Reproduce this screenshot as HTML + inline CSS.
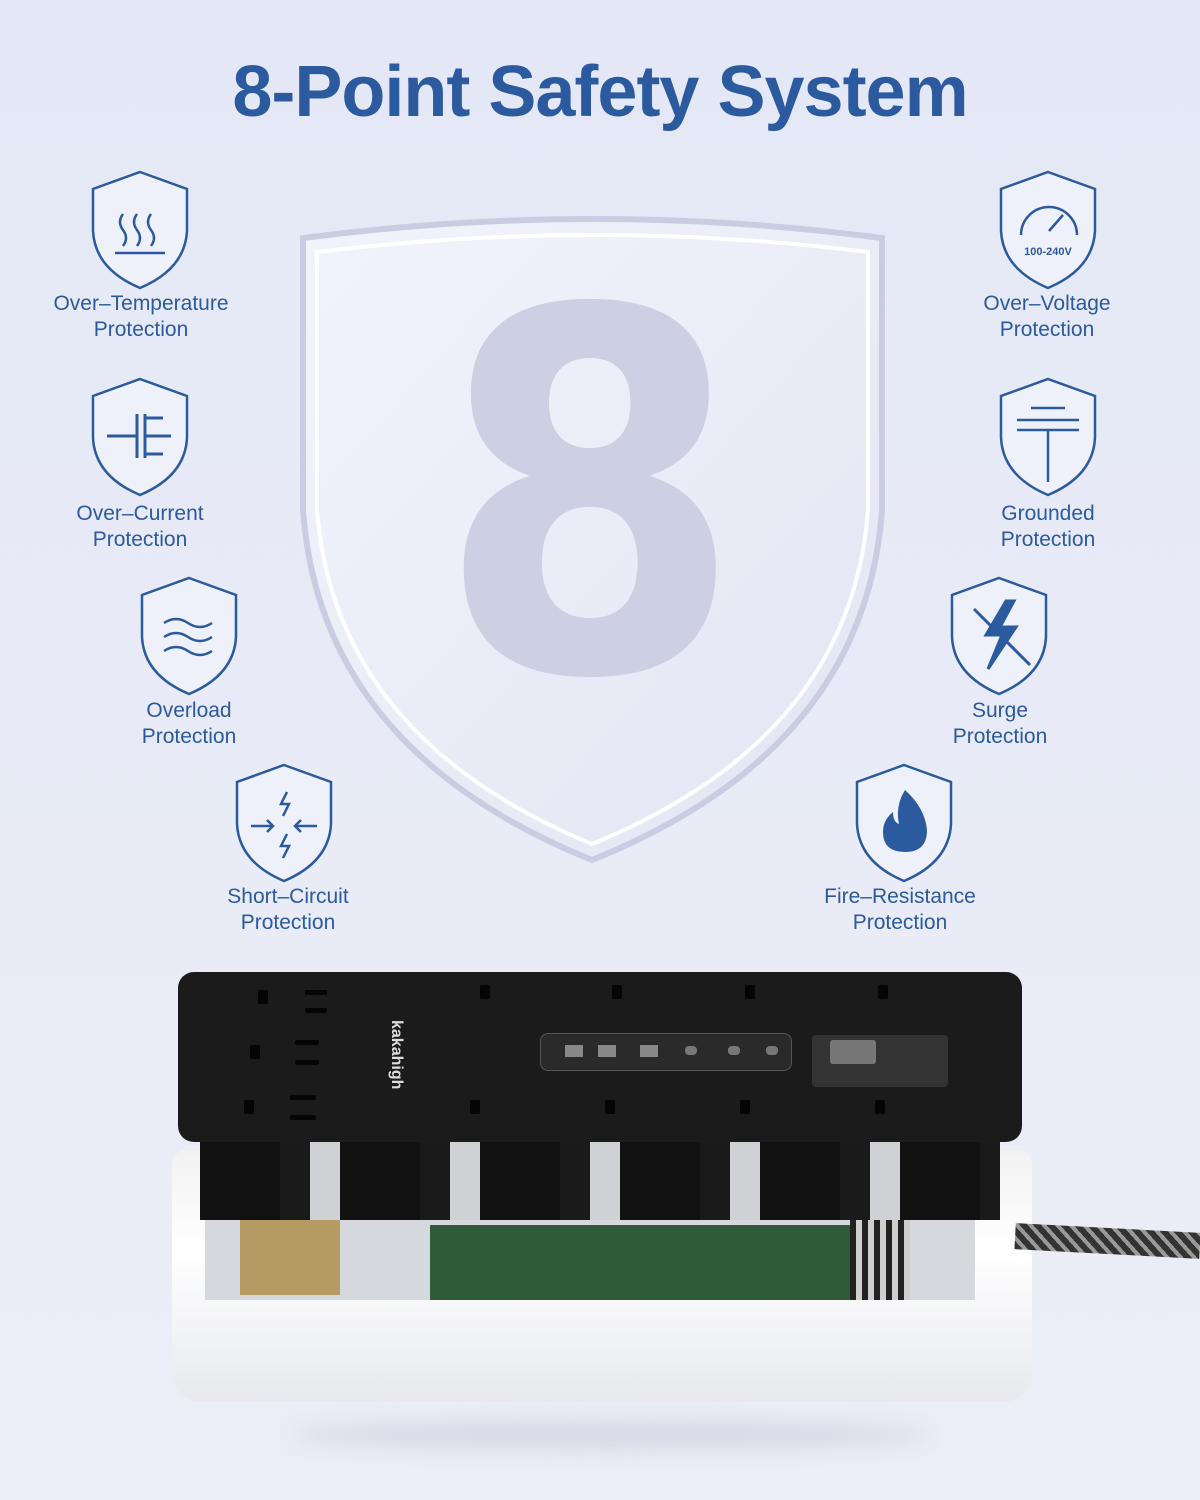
<!DOCTYPE html>
<html><head><meta charset="utf-8">
<style>
html,body{margin:0;padding:0}
body{width:1200px;height:1500px;position:relative;overflow:hidden;background:linear-gradient(#e4e8f6,#e9ecf7 60%,#eceef6);font-family:"Liberation Sans",sans-serif}
.title{position:absolute;top:51px;left:0;width:1200px;text-align:center;font-size:72px;font-weight:bold;color:#2b5a9e;letter-spacing:-1px}
.lbl{position:absolute;width:240px;text-align:center;font-size:21px;line-height:26px;color:#2b5a9e}
svg.sh{position:absolute;width:102px;height:122px}
.abs{position:absolute}
.o{position:absolute;width:10px;height:14px;background:#050505;border-radius:2px}
.eight{position:absolute;left:440px;top:400px;width:300px;height:200px;text-align:center;font-family:"DejaVu Sans",sans-serif;font-weight:bold;font-size:200px;line-height:200px;color:#cdd0e2;transform:scale(2.2,2.5);transform-origin:center center}
</style></head><body>
<div class="title">8-Point Safety System</div>

<svg class="abs" style="left:295px;top:210px" width="595" height="660" viewBox="0 0 595 660">
<defs><linearGradient id="g" x1="0" y1="0" x2="1" y2="1"><stop offset="0" stop-color="#f2f4fb"/><stop offset="1" stop-color="#e2e5f3"/></linearGradient></defs>
<path d="M8 28 Q300 -10 587 28 L587 300 Q570 540 297 650 Q25 540 8 300 Z" fill="url(#g)" stroke="#c9cde2" stroke-width="6"/>
<path d="M22 42 Q300 8 573 42 L573 300 Q556 528 297 634 Q40 528 22 300 Z" fill="none" stroke="#ffffff" stroke-width="4"/>
</svg>
<div class="eight">8</div>

<svg width="0" height="0" style="position:absolute"><defs>
<path id="s" d="M51 3 L98 20 L98 62 Q96 100 51 119 Q6 100 4 62 L4 20 Z" fill="#eef1fa" stroke="#2b5a9e" stroke-width="2.5"/>
</defs></svg>

<svg class="sh" style="left:89px;top:169px" viewBox="0 0 102 122"><use href="#s"/><g fill="none" stroke="#2b5a9e" stroke-width="2.5"><path d="M34 45 q-6 8 0 16 q6 8 0 16"/><path d="M48 45 q-6 8 0 16 q6 8 0 16"/><path d="M62 45 q-6 8 0 16 q6 8 0 16"/><path d="M26 84 h50"/></g></svg>
<div class="lbl" style="left:21px;top:291px">Over–Temperature<br>Protection</div>

<svg class="sh" style="left:89px;top:376px" viewBox="0 0 102 122"><use href="#s"/><g fill="none" stroke="#2b5a9e" stroke-width="3"><path d="M18 60 h30 M48 38 v44 M56 38 v44 M56 42 h18 M56 60 h26 M56 78 h18"/></g></svg>
<div class="lbl" style="left:20px;top:501px">Over–Current<br>Protection</div>

<svg class="sh" style="left:138px;top:575px" viewBox="0 0 102 122"><use href="#s"/><g fill="none" stroke="#2b5a9e" stroke-width="2.5"><path d="M26 48 q12 -8 24 0 q12 8 24 0"/><path d="M26 62 q12 -8 24 0 q12 8 24 0"/><path d="M26 76 q12 -8 24 0 q12 8 24 0"/></g></svg>
<div class="lbl" style="left:69px;top:698px">Overload<br>Protection</div>

<svg class="sh" style="left:233px;top:762px" viewBox="0 0 102 122"><use href="#s"/><g fill="none" stroke="#2b5a9e" stroke-width="2.5"><path d="M18 64 h22 M34 58 l6 6 -6 6 M84 64 h-22 M68 58 l-6 6 6 6 M54 30 l-6 12 8 0 -6 12 M54 72 l-6 12 8 0 -6 12"/></g></svg>
<div class="lbl" style="left:168px;top:884px">Short–Circuit<br>Protection</div>

<svg class="sh" style="left:997px;top:169px" viewBox="0 0 102 122"><use href="#s"/><g fill="none" stroke="#2b5a9e" stroke-width="2.5"><path d="M24 66 a28 28 0 0 1 56 0"/><path d="M52 62 l14 -16"/></g><text x="51" y="86" text-anchor="middle" style="font-size:11px;font-family:'Liberation Sans',sans-serif;font-weight:bold" fill="#2b5a9e">100-240V</text></svg>
<div class="lbl" style="left:927px;top:291px">Over–Voltage<br>Protection</div>

<svg class="sh" style="left:997px;top:376px" viewBox="0 0 102 122"><use href="#s"/><g fill="none" stroke="#2b5a9e" stroke-width="2.5"><path d="M34 32 h34 M20 44 h62 M20 54 h62 M51 54 v52"/></g></svg>
<div class="lbl" style="left:928px;top:501px">Grounded<br>Protection</div>

<svg class="sh" style="left:948px;top:575px" viewBox="0 0 102 122"><use href="#s"/><g stroke="#2b5a9e" stroke-width="3"><path d="M58 26 L38 60 L54 60 L40 94 L68 52 L52 52 L66 26 Z" fill="#2b5a9e"/><path d="M26 34 L82 90" fill="none"/></g></svg>
<div class="lbl" style="left:880px;top:698px">Surge<br>Protection</div>

<svg class="sh" style="left:853px;top:762px" viewBox="0 0 102 122"><use href="#s"/><path d="M52 28 q20 18 22 40 q0 22 -22 22 q-22 0 -22 -20 q0 -12 10 -20 q0 10 6 12 q-4 -18 6 -34 Z" fill="#2b5a9e"/></svg>
<div class="lbl" style="left:780px;top:884px">Fire–Resistance<br>Protection</div>

<div class="abs" style="left:290px;top:1420px;width:640px;height:30px;border-radius:50%;background:#d6d9e6;filter:blur(10px)"></div>
<div class="abs" style="left:172px;top:1150px;width:860px;height:252px;background:linear-gradient(#f2f2f2,#ffffff 40%,#e8e9ee);border-radius:14px 14px 30px 30px"></div>
<div class="abs" style="left:205px;top:1160px;width:770px;height:140px;background:#d5d8dc"></div>
<div class="abs" style="left:430px;top:1225px;width:470px;height:75px;background:#2f5b38"></div>
<div class="abs" style="left:850px;top:1220px;width:60px;height:80px;background:repeating-linear-gradient(90deg,#222 0 6px,#cfcfcf 6px 12px)"></div>
<div class="abs" style="left:240px;top:1195px;width:100px;height:100px;background:#b59a62"></div>
<div class="abs" style="left:1015px;top:1228px;width:185px;height:26px;background:repeating-linear-gradient(45deg,#333 0 6px,#999 6px 10px);transform:rotate(3deg)"></div>
<div class="abs" style="left:200px;top:1135px;width:800px;height:85px;background:repeating-linear-gradient(90deg,#111 0 80px,#1a1a1a 80px 110px,#cfd1d4 110px 140px)"></div>
<div class="abs" style="left:178px;top:972px;width:844px;height:170px;background:#1b1b1c;border-radius:16px"></div>
<div class="o" style="left:258px;top:990px"></div><div class="o" style="left:305px;top:990px;width:22px;height:5px"></div><div class="o" style="left:305px;top:1008px;width:22px;height:5px"></div>
<div class="o" style="left:250px;top:1045px"></div><div class="o" style="left:295px;top:1040px;width:24px;height:5px"></div><div class="o" style="left:295px;top:1060px;width:24px;height:5px"></div>
<div class="o" style="left:244px;top:1100px"></div><div class="o" style="left:290px;top:1095px;width:26px;height:5px"></div><div class="o" style="left:290px;top:1115px;width:26px;height:5px"></div>
<div class="o" style="left:480px;top:985px"></div><div class="o" style="left:612px;top:985px"></div><div class="o" style="left:745px;top:985px"></div><div class="o" style="left:878px;top:985px"></div>
<div class="o" style="left:470px;top:1100px"></div><div class="o" style="left:605px;top:1100px"></div><div class="o" style="left:740px;top:1100px"></div><div class="o" style="left:875px;top:1100px"></div>
<div class="abs" style="top:1020px;color:#ddd;font-size:16px;font-weight:bold;transform:rotate(90deg);transform-origin:left top;left:405px">kakahigh</div>
<div class="abs" style="left:540px;top:1033px;width:250px;height:36px;background:#2a2a2a;border:1px solid #555;border-radius:8px"></div>
<div class="abs" style="left:565px;top:1045px;width:18px;height:12px;background:#888"></div>
<div class="abs" style="left:598px;top:1045px;width:18px;height:12px;background:#888"></div>
<div class="abs" style="left:640px;top:1045px;width:18px;height:12px;background:#888"></div>
<div class="abs" style="left:685px;top:1046px;width:12px;height:9px;background:#777;border-radius:4px"></div>
<div class="abs" style="left:728px;top:1046px;width:12px;height:9px;background:#777;border-radius:4px"></div>
<div class="abs" style="left:766px;top:1046px;width:12px;height:9px;background:#777;border-radius:4px"></div>
<div class="abs" style="left:812px;top:1035px;width:136px;height:52px;background:#333;border-radius:4px"></div>
<div class="abs" style="left:830px;top:1040px;width:46px;height:24px;background:#777;border-radius:3px"></div>
</body></html>
